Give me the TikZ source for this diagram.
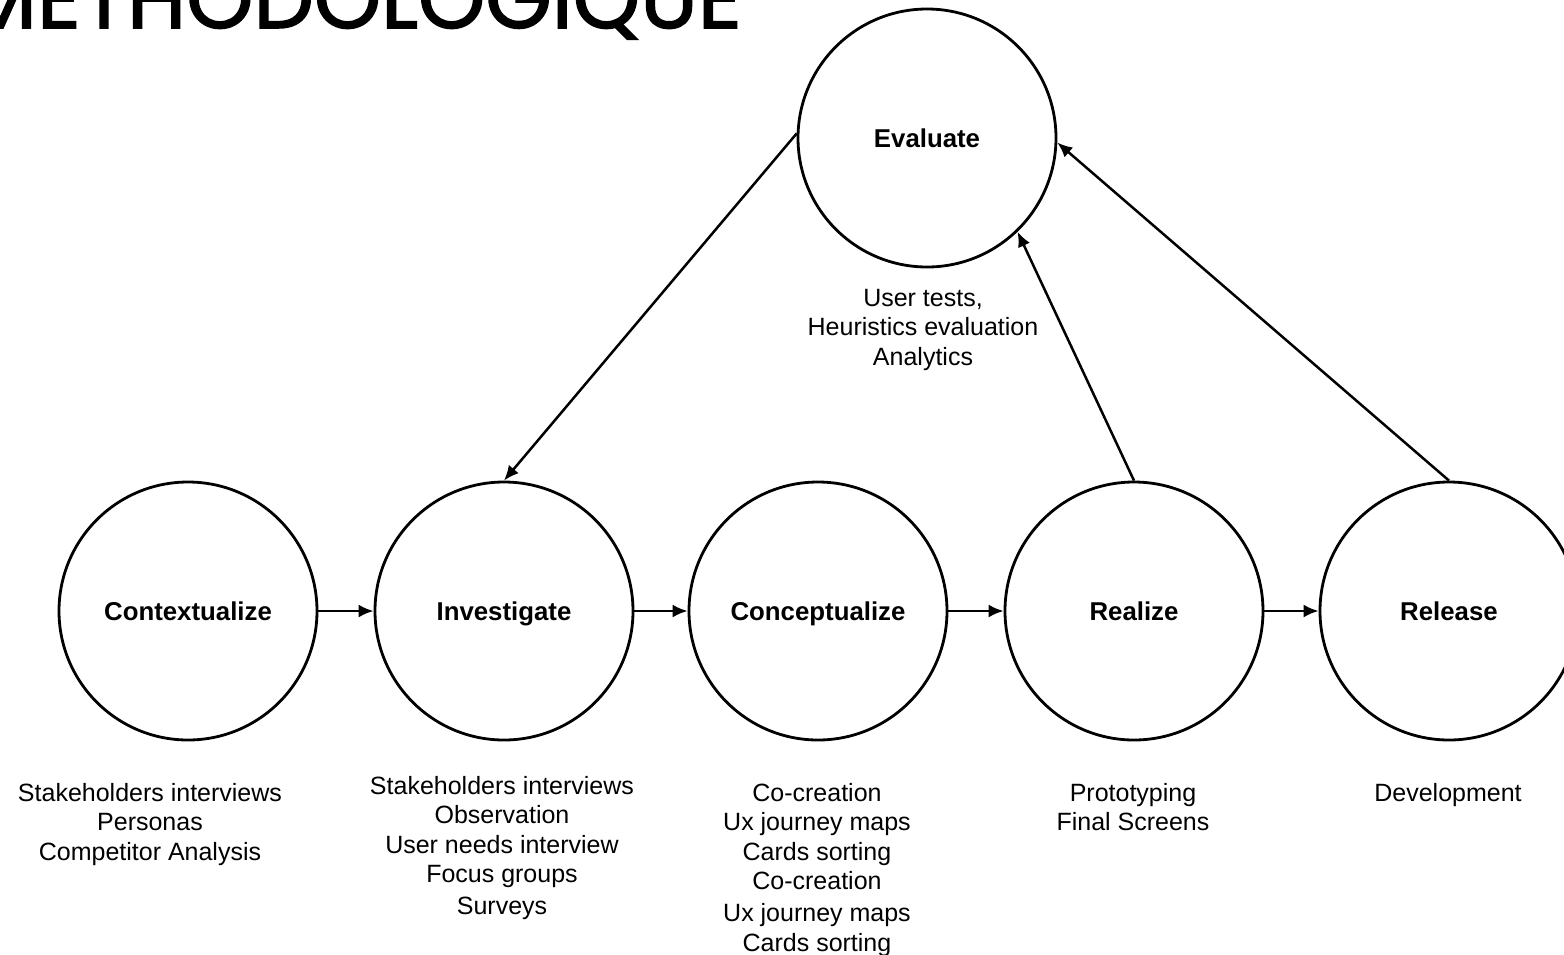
\documentclass[tikz,border=0pt]{standalone}
\usepackage{fontspec}
\setmainfont{Liberation Sans}
\newfontfamily\headfont{Poppins}[FakeBold=1.8]
\usetikzlibrary{arrows.meta}
\begin{document}
\begin{tikzpicture}[x=1pt,y=-1pt,
  phase/.style={draw,circle,line width=2.8pt,minimum size=258pt,inner sep=0pt,
    text height=18pt,text depth=0pt,
    font=\fontsize{25.8}{30}\selectfont\bfseries},
  notes/.style={anchor=north,inner sep=0pt,align=center,
    font=\fontsize{25}{29.5}\selectfont},
  flow/.style={line width=2.5pt,-{Latex[length=15pt,width=13pt]}}]
\useasboundingbox (0,0) rectangle (1564,954);
\clip (0,0) rectangle (1564,954);

% heading
\node[anchor=base east,inner sep=0pt,
  font=\headfont\fontsize{85.5}{86}\selectfont] (title) at (742,28) {METHODOLOGIQUE};

% phases
\node[phase] (ctx) at (188,611) {Contextualize};
\node[phase] (inv) at (504,611) {Investigate};
\node[phase] (con) at (818,611) {Conceptualize};
\node[phase] (rea) at (1134,611) {Realize};
\node[phase] (rel) at (1449,611) {Release};
\node[phase] (eva) at (927,138) {Evaluate};

% methods per phase
\node[notes] (ctxm) at (150,783) {Stakeholders interviews\\Personas\\Competitor Analysis};
\node[notes] (invm) at (502,776) {Stakeholders interviews\\Observation\\User needs interview\\Focus groups\\[2.5pt]Surveys};
\node[notes] (conm) at (817,783) {Co-creation\\Ux journey maps\\Cards sorting\\Co-creation\\[2.5pt]Ux journey maps\\Cards sorting};
\node[notes] (ream) at (1133,783) {Prototyping\\Final Screens};
\node[notes] (relm) at (1448,783) {Development};
\node[notes] (evam) at (923,289) {User tests,\\Heuristics evaluation\\Analytics};

% flow between phases
\draw[flow] (ctx) -- (inv);
\draw[flow] (inv) -- (con);
\draw[flow] (con) -- (rea);
\draw[flow] (rea) -- (rel);
\draw[flow] (eva.178) -- (inv.north);
\draw[flow] (rea.north) -- (eva.-46);
\draw[flow] (rel.north) -- (eva.-2);
\end{tikzpicture}
\end{document}
